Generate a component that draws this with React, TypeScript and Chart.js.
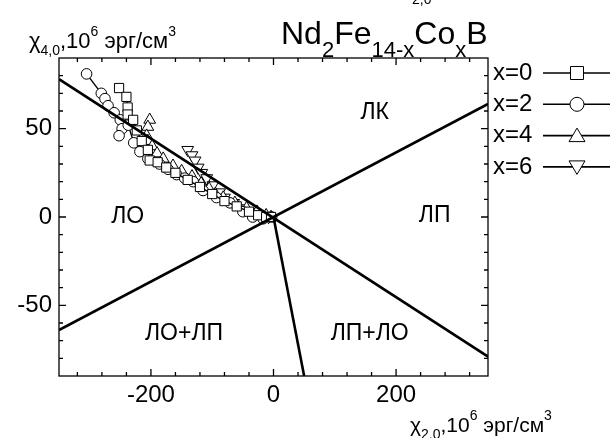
import { useEffect, useRef } from "react";
import { Chart, registerables } from "chart.js";
Chart.register(...registerables);

const FONT = "'Liberation Sans', Arial, sans-serif";

// Axis ranges and ticks
const xRange = [-350, 350];
const yRange = [-90, 90];
const xMajorTicks = [-200, 0, 200];
const xMinorTicks = [-320, -280, -240, -160, -120, -80, -40, 40, 80, 120, 160, 240, 280, 320];
const yMajorTicks = [-50, 0, 50];
const yMinorTicks = [-80, -70, -60, -40, -30, -20, -10, 10, 20, 30, 40, 60, 70, 80];

// Series
const seriesNames = ["x=0", "x=2", "x=4", "x=6"];
const x0X = [-252, -240, -238, -238, -229, -223, -215, -205, -202, -189, -175, -160, -140, -120, -100, -80, -60, -40, -25, -12, -4];
const x0Y = [73, 68, 62, 58, 55, 49, 43, 38, 32, 31, 28, 25, 21, 17, 13, 9, 6, 3, 1, 0, 0];
const x2X = [-305, -281, -275, -270, -260, -250, -247, -252, -237, -228, -218, -205, -186, -172, -158, -145, -131, -115, -93, -71, -50, -34, -17, -3];
const x2Y = [81, 70, 67, 63, 59, 55, 50, 46, 52, 42, 37, 33, 30, 27, 24, 22, 20, 15, 11, 8, 3, 0, -1, 0];
const x4X = [-202, -205, -207, -205, -198, -190, -180, -164, -150, -133, -118, -105, -95, -82, -63, -44, -27, -12, -4];
const x4Y = [55, 51, 46, 43, 40, 36, 33, 29, 26, 23, 19, 16, 13, 11, 8, 5, 3, 1, 0];
const x6X = [-140, -133, -128, -123, -117, -109, -99, -88, -80, -65, -50, -35, -20, -8];
const x6Y = [38, 35, 32, 28, 25, 22, 18, 14, 11, 8, 5, 3, 1, 0];

// Phase boundary lines
const lineAX = [-350, 350];
const lineAY = [78, -79];
const lineBX = [-350, 350];
const lineBY = [-64, 64];
const lineCX = [0, 50];
const lineCY = [0, -90];

// Region labels
const regionLabels = ["ЛК", "ЛО", "ЛП", "ЛО+ЛП", "ЛП+ЛО"];
const regionX = [165, -238, 263, -146, 157];
const regionY = [59, 0, 1, -66, -66];

const zip = (xs: number[], ys: number[]) => xs.map((x, i) => ({ x, y: ys[i] }));

type Part = { t: string; size: number; dy: number };
function drawRich(ctx: CanvasRenderingContext2D, parts: Part[], x: number, y: number) {
  let cx = x;
  ctx.textAlign = "left";
  ctx.textBaseline = "alphabetic";
  for (const p of parts) {
    ctx.font = `${p.size}px ${FONT}`;
    ctx.fillText(p.t, cx, y + p.dy);
    cx += ctx.measureText(p.t).width;
  }
}

function drawMarker(ctx: CanvasRenderingContext2D, kind: number, x: number, y: number) {
  ctx.save();
  ctx.fillStyle = "#fff";
  ctx.strokeStyle = "#000";
  ctx.lineWidth = 1;
  ctx.beginPath();
  if (kind === 0) {
    ctx.rect(x - 6.5, y - 6.5, 13, 13);
  } else if (kind === 1) {
    ctx.arc(x, y, 7, 0, Math.PI * 2);
  } else if (kind === 2) {
    ctx.moveTo(x, y - 7.5);
    ctx.lineTo(x + 8, y + 6);
    ctx.lineTo(x - 8, y + 6);
    ctx.closePath();
  } else {
    ctx.moveTo(x, y + 7.5);
    ctx.lineTo(x + 8, y - 6);
    ctx.lineTo(x - 8, y - 6);
    ctx.closePath();
  }
  ctx.fill();
  ctx.stroke();
  ctx.restore();
}

const decorPlugin = {
  id: "decor",
  afterDraw(chart: any) {
    const ctx: CanvasRenderingContext2D = chart.ctx;
    const { left, right, top, bottom } = chart.chartArea;
    const xs = chart.scales.x;
    const ys = chart.scales.y;
    ctx.save();
    ctx.strokeStyle = "#000";
    ctx.fillStyle = "#000";
    ctx.lineWidth = 1.3;
    ctx.strokeRect(left, top, right - left, bottom - top);
    const tick = (vals: number[], len: number) => {
      ctx.beginPath();
      for (const v of vals) {
        const px = xs.getPixelForValue(v);
        ctx.moveTo(px, bottom);
        ctx.lineTo(px, bottom - len);
        ctx.moveTo(px, top);
        ctx.lineTo(px, top + len);
      }
      ctx.stroke();
    };
    const ytick = (vals: number[], len: number) => {
      ctx.beginPath();
      for (const v of vals) {
        const py = ys.getPixelForValue(v);
        ctx.moveTo(left, py);
        ctx.lineTo(left + len, py);
        ctx.moveTo(right, py);
        ctx.lineTo(right - len, py);
      }
      ctx.stroke();
    };
    tick(xMajorTicks, 7);
    tick(xMinorTicks, 4);
    ytick(yMajorTicks, 7);
    ytick(yMinorTicks, 4);

    // region labels
    ctx.font = `23px ${FONT}`;
    ctx.textAlign = "center";
    ctx.textBaseline = "middle";
    regionLabels.forEach((t, i) => {
      ctx.fillText(t, xs.getPixelForValue(regionX[i]), ys.getPixelForValue(regionY[i]));
    });

    // title
    drawRich(ctx, [
      { t: "Nd", size: 32, dy: 0 },
      { t: "2", size: 22, dy: 13 },
      { t: "Fe", size: 32, dy: 0 },
      { t: "14-x", size: 22, dy: 13 },
      { t: "Co", size: 32, dy: 0 },
      { t: "x", size: 22, dy: 13 },
      { t: "B", size: 32, dy: 0 },
    ], 281, 44);
    // clipped fragment at very top
    drawRich(ctx, [{ t: "2,0", size: 14, dy: 0 }], 412, 4);

    // y axis title
    drawRich(ctx, [
      { t: "χ", size: 22, dy: 0 },
      { t: "4,0", size: 14, dy: 7 },
      { t: ",10", size: 22, dy: 0 },
      { t: "6", size: 14, dy: -12 },
      { t: " эрг/см", size: 22, dy: 0 },
      { t: "3", size: 14, dy: -12 },
    ], 29, 48);

    // x axis title
    drawRich(ctx, [
      { t: "χ", size: 21, dy: 0 },
      { t: "2,0", size: 14, dy: 7 },
      { t: ",10", size: 21, dy: 0 },
      { t: "6", size: 14, dy: -12 },
      { t: " эрг/см", size: 21, dy: 0 },
      { t: "3", size: 14, dy: -12 },
    ], 410, 432);

    // legend
    seriesNames.forEach((name, i) => {
      const y = 73 + i * 31.3;
      ctx.font = `24px ${FONT}`;
      ctx.textAlign = "left";
      ctx.textBaseline = "middle";
      ctx.fillStyle = "#000";
      ctx.fillText(name, 493, y);
      ctx.lineWidth = 1.6;
      ctx.beginPath();
      ctx.moveTo(543, y);
      ctx.lineTo(610, y);
      ctx.stroke();
      drawMarker(ctx, i, 577, y);
    });
    ctx.restore();
  },
};

export default function App() {
  const ref = useRef<HTMLCanvasElement>(null);
  useEffect(() => {
    if (!ref.current) return;
    const series = [
      { data: zip(x0X, x0Y), style: "rect", r: 6.5, rot: 0 },
      { data: zip(x2X, x2Y), style: "circle", r: 5.3, rot: 0 },
      { data: zip(x4X, x4Y), style: "triangle", r: 6.8, rot: 0 },
      { data: zip(x6X, x6Y), style: "triangle", r: 6.8, rot: 180 },
    ];
    const lines = [zip(lineAX, lineAY), zip(lineBX, lineBY), zip(lineCX, lineCY)];
    const chart = new Chart(ref.current, {
      type: "scatter",
      data: {
        datasets: [
          ...lines.map((d) => ({
            data: d,
            showLine: true,
            borderColor: "#000",
            borderWidth: 2.6,
            pointRadius: 0,
            order: 0,
          })),
          ...series.map((s) => ({
            data: s.data,
            showLine: true,
            borderColor: "#000",
            borderWidth: 1.4,
            pointStyle: s.style,
            pointRadius: s.r,
            pointRotation: s.rot,
            pointBackgroundColor: "#fff",
            pointBorderColor: "#000",
            pointBorderWidth: 1,
            order: 1,
          })),
        ] as any,
      },
      options: {
        responsive: false,
        animation: false,
        layout: { padding: { left: 8, top: 58, right: 125, bottom: 22 } },
        plugins: { legend: { display: false }, tooltip: { enabled: false } },
        scales: {
          x: {
            type: "linear",
            min: xRange[0],
            max: xRange[1],
            grid: { display: false, drawTicks: false },
            border: { display: false },
            afterBuildTicks: (s: any) => {
              s.ticks = xMajorTicks.map((v) => ({ value: v }));
            },
            afterFit: (s: any) => {
              s.height = 40;
            },
            ticks: {
              padding: 5,
              color: "#000",
              font: { family: FONT, size: 24 },
              maxRotation: 0,
            },
          },
          y: {
            type: "linear",
            min: yRange[0],
            max: yRange[1],
            grid: { display: false, drawTicks: false },
            border: { display: false },
            afterBuildTicks: (s: any) => {
              s.ticks = yMajorTicks.map((v) => ({ value: v }));
            },
            afterFit: (s: any) => {
              s.width = 51;
            },
            ticks: {
              padding: 7,
              color: "#000",
              font: { family: FONT, size: 24 },
            },
          },
        },
      },
      plugins: [decorPlugin],
    });
    return () => chart.destroy();
  }, []);
  return (
    <div style={{ position: "absolute", left: 0, top: 0, width: 613, height: 438, background: "#fff" }}>
      <canvas ref={ref} width={613} height={438} />
    </div>
  );
}
